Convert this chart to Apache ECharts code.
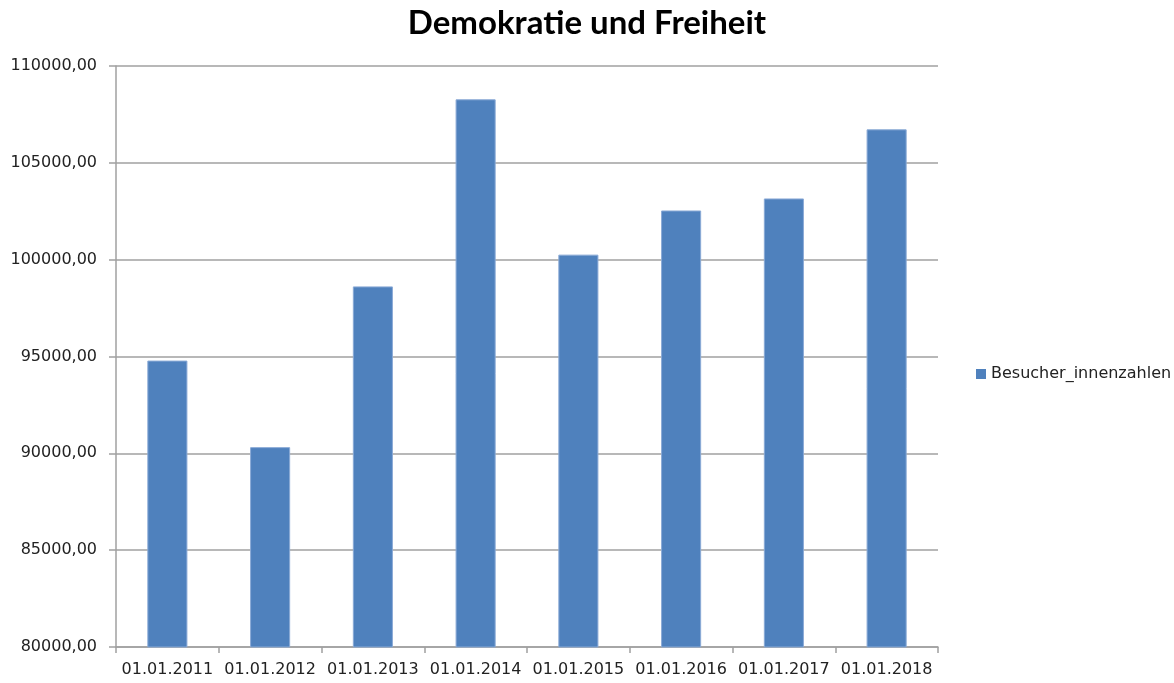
<!DOCTYPE html>
<html>
<head>
<meta charset="utf-8">
<script src="https://cdn.jsdelivr.net/npm/echarts@6/dist/echarts.min.js"></script>
<style>
  html, body { margin: 0; padding: 0; background: #fff; }
  #chart { width: 1174px; height: 683px; }
</style>
</head>
<body>
<div id="chart"></div>
<script>
// data
const categories = ['01.01.2011', '01.01.2012', '01.01.2013', '01.01.2014', '01.01.2015', '01.01.2016', '01.01.2017', '01.01.2018']
const besucher = [94790, 90320, 98620, 108280, 100260, 102540, 103160, 106730]
const seriesName = 'Besucher_innenzahlen'

const chart = echarts.init(document.getElementById('chart'))

const fmt = v => v.toFixed(2).replace('.', ',')

chart.setOption({
  animation: false,
  title: {
    text: 'Demokratie und Freiheit',
    left: 'center',
    top: 2,
    textStyle: { fontFamily: 'Lato', fontWeight: 'bold', fontSize: 33, color: '#000' }
  },
  legend: {
    data: [seriesName],
    orient: 'vertical',
    left: 971,
    top: 361,
    icon: 'rect',
    itemWidth: 10,
    itemHeight: 10,
    itemStyle: { borderWidth: 0 },
    textStyle: { fontFamily: 'DejaVu Sans', fontSize: 16, color: '#222' }
  },
  grid: { left: 116, right: 236, top: 66, bottom: 36 },
  xAxis: {
    type: 'category',
    data: categories,
    axisLine: { lineStyle: { color: '#a0a0a0', width: 1.5 } },
    axisTick: { show: true, length: 6, lineStyle: { color: '#a0a0a0', width: 1.5 } },
    axisLabel: { interval: 0, fontFamily: 'DejaVu Sans', fontSize: 16, color: '#222', margin: 15 }
  },
  yAxis: {
    type: 'value',
    min: 80000,
    max: 110000,
    interval: 5000,
    axisLine: { show: true, lineStyle: { color: '#a0a0a0', width: 1.5 } },
    axisTick: { show: true, length: 7, lineStyle: { color: '#a0a0a0', width: 1.5 } },
    splitLine: { lineStyle: { color: '#a0a0a0', width: 1.5 } },
    axisLabel: { fontFamily: 'DejaVu Sans', fontSize: 16, color: '#222', margin: 19, formatter: fmt }
  },
  series: [{
    name: seriesName,
    type: 'bar',
    data: besucher,
    barWidth: '39%',
    itemStyle: { color: '#4F81BD', borderColor: '#8aaad6', borderWidth: 1 }
  }]
})
</script>
</body>
</html>
